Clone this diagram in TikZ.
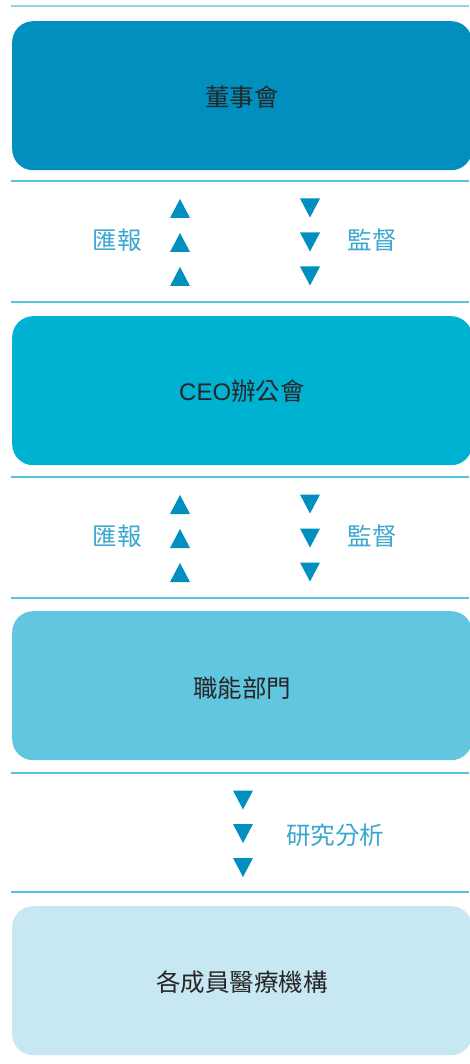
\documentclass[tikz,border=0pt]{standalone}
\usepackage{fontspec}
\setmainfont{Liberation Sans}
\newfontfamily\cjk{Noto Sans CJK TC}
\definecolor{boxA}{HTML}{008FBE}
\definecolor{boxB}{HTML}{00B2D2}
\definecolor{boxC}{HTML}{62C6E0}
\definecolor{boxD}{HTML}{C7E8F2}
\definecolor{rule}{HTML}{55C4E2}
\definecolor{ruletop}{HTML}{8ED8EE}
\definecolor{tricol}{HTML}{008FBE}
\definecolor{lbl}{HTML}{3AA7D0}
\definecolor{txt}{HTML}{262626}
\begin{document}
\begin{tikzpicture}[x=1pt,y=-1pt,
  orgbox/.style={rounded corners=21pt, minimum width=460pt, minimum height=149pt, anchor=north west, inner sep=0pt,
    font=\fontsize{24}{28}\selectfont\cjk, text=txt},
  boxtext/.style={font=\fontsize{24.5}{28}\selectfont\cjk, text=txt},
  sep/.style={draw=rule, line width=1.4pt},
  lab/.style={font=\fontsize{24.5}{28}\selectfont\cjk, text=lbl, inner sep=0pt},
  uptri/.pic={\fill[tricol] (-10,9.5) -- (10,9.5) -- (0,-9.5) -- cycle;},
  dntri/.pic={\fill[tricol] (-10,-9.5) -- (10,-9.5) -- (0,9.5) -- cycle;}
]
\useasboundingbox (0,0) rectangle (469,1064);
\fill[white] (0,0) rectangle (469,1064);

% separators
\coordinate (l0a) at (11,6);   \coordinate (l0b) at (469,6);
\coordinate (l1a) at (11,181); \coordinate (l1b) at (469,181);
\coordinate (l2a) at (11,302); \coordinate (l2b) at (469,302);
\coordinate (l3a) at (11,477); \coordinate (l3b) at (469,477);
\coordinate (l4a) at (11,598); \coordinate (l4b) at (469,598);
\coordinate (l5a) at (11,773); \coordinate (l5b) at (469,773);
\coordinate (l6a) at (11,892); \coordinate (l6b) at (469,892);
\draw[draw=ruletop, line width=1.4pt] (l0a) -- (l0b);
\draw[sep] (l1a) -- (l1b);
\draw[sep] (l2a) -- (l2b);
\draw[sep] (l3a) -- (l3b);
\draw[sep] (l4a) -- (l4b);
\draw[sep] (l5a) -- (l5b);
\draw[sep] (l6a) -- (l6b);

% boxes
\node[orgbox, fill=boxA] (board) at (12,21) {};
\node[boxtext] (boardt) at (242,97) {董事會};
\node[orgbox, fill=boxB] (ceo) at (12,316) {};
\node[text=txt] (ceot) at (242,391) {\fontsize{24}{28}\selectfont CEO\fontsize{24.5}{28}\selectfont\cjk 辦公會};
\node[orgbox, fill=boxC] (func) at (12,611) {};
\node[boxtext] (funct) at (242,688) {職能部門};
\node[orgbox, fill=boxD] (inst) at (12,906) {};
\node[boxtext] (instt) at (242,982) {各成員醫療機構};

% section 1
\node[lab] (rep1) at (117,240) {匯報};
\node[lab] (sup1) at (372,240) {監督};
\pic at (180,208.5) {uptri};
\pic at (180,242.5) {uptri};
\pic at (180,276.5) {uptri};
\pic at (310,208) {dntri};
\pic at (310,242) {dntri};
\pic at (310,276) {dntri};

% section 2
\node[lab] (rep2) at (117,536) {匯報};
\node[lab] (sup2) at (372,536) {監督};
\pic at (180,504.5) {uptri};
\pic at (180,538.5) {uptri};
\pic at (180,572.5) {uptri};
\pic at (310,504) {dntri};
\pic at (310,538) {dntri};
\pic at (310,572) {dntri};

% section 3
\node[lab] (res) at (335,835) {研究分析};
\pic at (243,800) {dntri};
\pic at (243,833.5) {dntri};
\pic at (243,867.5) {dntri};
\end{tikzpicture}
\end{document}
